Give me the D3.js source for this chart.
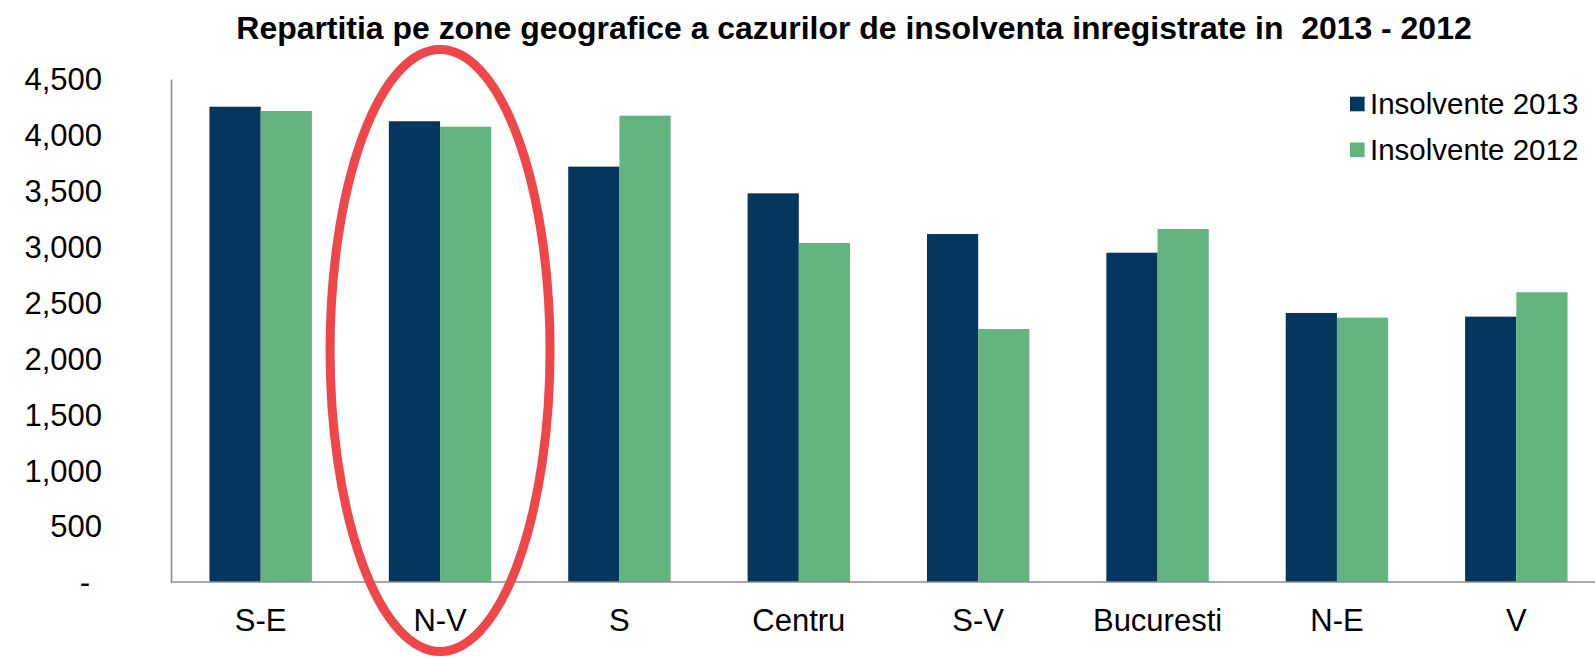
<!DOCTYPE html>
<html>
<head>
<meta charset="utf-8">
<script src="https://cdn.jsdelivr.net/npm/d3@7"></script>
<style>
  html, body { margin: 0; padding: 0; background: #fff; }
  svg { display: block; font-family: "Liberation Sans", Arial, sans-serif; }
</style>
</head>
<body>
<svg id="chart" width="1595" height="658"></svg>
<script>
const categories = ["S-E", "N-V", "S", "Centru", "S-V", "Bucuresti", "N-E", "V"];
const seriesNames = ["Insolvente 2013", "Insolvente 2012"];
const values2013 = [4252, 4122, 3716, 3477, 3113, 2946, 2407, 2374];
const values2012 = [4214, 4073, 4172, 3033, 2263, 3158, 2365, 2592];
const yTicks = [0, 500, 1000, 1500, 2000, 2500, 3000, 3500, 4000, 4500];
const colors = ["#04365e", "#63b47e"];
const titleText = "Repartitia pe zone geografice a cazurilor de insolventa inregistrate in\u00a0 2013 - 2012";
const highlighted = "N-V";

const svg = d3.select("#chart");
const W = 1595, H = 658;
const plot = { left: 171, right: 1606, top: 79, bottom: 582 };

const x0 = d3.scaleBand()
  .domain(categories)
  .range([plot.left, plot.right])
  .paddingInner(0.429)
  .paddingOuter(0.2145);
const x1 = d3.scaleBand()
  .domain(seriesNames)
  .range([0, x0.bandwidth()]);
const y = d3.scaleLinear().domain([0, 4500]).range([plot.bottom, plot.top]);

const seriesData = [values2013, values2012];
const rows = categories.map((c, i) => ({ cat: c, vals: seriesNames.map((s, k) => ({ s, v: seriesData[k][i] })) }));

// bars
const g = svg.append("g");
g.selectAll("g.grp").data(rows).join("g")
  .attr("class", "grp")
  .attr("transform", d => `translate(${x0(d.cat)},0)`)
  .selectAll("rect").data(d => d.vals).join("rect")
  .attr("x", d => x1(d.s))
  .attr("width", x1.bandwidth())
  .attr("y", d => y(d.v))
  .attr("height", d => y(0) - y(d.v))
  .attr("fill", d => colors[seriesNames.indexOf(d.s)]);

// y axis
const yAxis = d3.axisLeft(y).tickValues(yTicks).tickSize(0).tickPadding(0)
  .tickFormat(v => v === 0 ? "-" : d3.format(",")(v));
const ya = svg.append("g").attr("transform", `translate(${plot.left},0)`).call(yAxis);
ya.select(".domain").attr("stroke", "#8c8c8c").attr("stroke-width", 1.6);
ya.selectAll(".tick text")
  .attr("x", -69)
  .attr("dx", v => v === 0 ? -12 : 0)
  .attr("dy", "0.35em")
  .attr("fill", "#000")
  .style("font-size", "31px")
  .style("font-family", "'Liberation Sans', Arial, sans-serif");

// x axis
const xAxis = d3.axisBottom(x0).tickSize(0).tickPadding(0);
const xa = svg.append("g").attr("transform", `translate(0,${plot.bottom})`).call(xAxis);
xa.select(".domain").attr("d", `M${plot.left},0H${W}`).attr("stroke", "#8c8c8c").attr("stroke-width", 1.6);
xa.selectAll(".tick text")
  .attr("y", 38.5)
  .attr("dy", "0.35em")
  .attr("fill", "#000")
  .style("font-size", "31px")
  .style("font-family", "'Liberation Sans', Arial, sans-serif");

// title
const title = svg.append("text")
  .attr("x", 854).attr("y", 39)
  .attr("text-anchor", "middle")
  .attr("font-weight", "bold")
  .style("font-size", "26px")
  .attr("fill", "#000")
  .text(titleText);
const tl = title.node().getComputedTextLength();
title.style("font-size", (26 * 1236 / tl).toFixed(2) + "px");

// legend
const legend = svg.append("g").attr("transform", "translate(1350,104)");
seriesNames.forEach((s, k) => {
  const row = legend.append("g").attr("transform", `translate(0,${k * 45.8})`);
  row.append("rect").attr("x", 0).attr("y", -7.3).attr("width", 14.6).attr("height", 14.6).attr("fill", colors[k]);
  row.append("text").attr("x", 20).attr("y", 0).attr("dy", "0.35em")
    .style("font-size", "29.5px").attr("fill", "#000").text(s);
});

// highlight ellipse
const cx = x0(highlighted) + x0.bandwidth() / 2;
svg.append("ellipse")
  .attr("cx", cx).attr("cy", 350.5)
  .attr("rx", 110).attr("ry", 301)
  .attr("fill", "none")
  .attr("stroke", "#ef4749")
  .attr("stroke-width", 9);
</script>
</body>
</html>
